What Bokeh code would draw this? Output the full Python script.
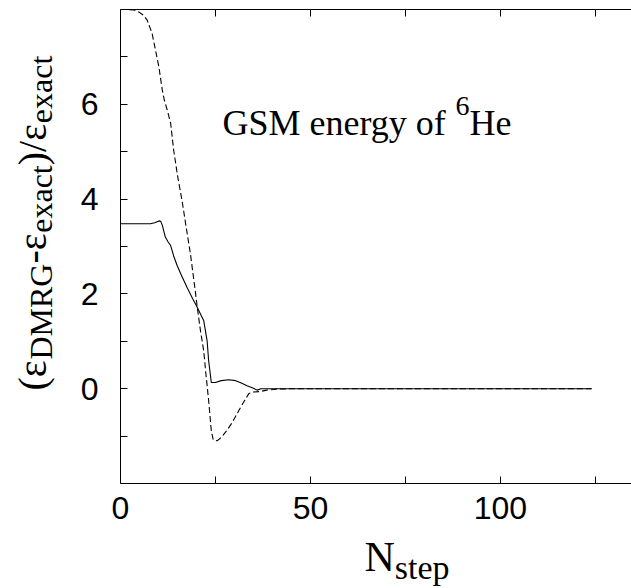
import math
from bokeh.plotting import figure
from bokeh.models import Label, LinearAxis, FixedTicker, Range1d
from bokeh.layouts import column, row
from bokeh.embed import file_html
from bokeh.resources import INLINE

# ---- data ----
n_dashed = [0, 2, 3.5, 4.8, 6, 7, 8.3, 9.2, 10.1, 11, 11.5, 12.3, 13.2, 14, 15, 16.2,
            17.3, 18.4, 19.7, 20.2, 21, 21.9, 22.5, 23.2, 23.9, 24.4, 25.4, 26.2, 27,
            28.1, 29.5, 31, 32.5, 33.8, 35, 36.8, 38.5, 41, 45, 124]
e_dashed = [8.0, 8.0, 7.99, 7.95, 7.88, 7.78, 7.5, 7.15, 6.79, 6.3, 6.1, 5.88, 5.6, 5.03,
            4.5, 3.97, 3.4, 2.85, 2.05, 1.72, 1.25, 0.8, 0.3, -0.25, -0.89, -1.08, -1.1,
            -1.05, -0.98, -0.87, -0.7, -0.48, -0.27, -0.1, -0.07, -0.06, -0.03, -0.01, 0.0, 0.0]

n_solid = [0, 7.9, 9, 10.1, 10.6, 11, 11.8, 12.5, 13.2, 14, 14.9, 16, 17.5, 19, 20.2,
           21.2, 21.9, 22.4, 22.8, 23.2, 23.9, 25, 26.5, 28.5, 30.3, 31.8, 33.3, 35,
           35.9, 37, 124]
e_solid = [3.48, 3.48, 3.5, 3.54, 3.53, 3.45, 3.2, 3.1, 3.02, 2.8, 2.6, 2.4, 2.14, 1.9,
           1.72, 1.55, 1.44, 1.2, 1.01, 0.59, 0.13, 0.13, 0.17, 0.19, 0.17, 0.12, 0.06,
           0.01, -0.03, 0.0, 0.0]

x_major = [0, 50, 100]
x_minor = [25, 75, 125]
y_major = [0, 2, 4, 6]
y_minor = [-1, 1, 3, 5, 7]

# Times (Liberation Serif) advance widths, em units
ADV = {'(': .333, ')': .333, '/': .278, '-': .333, 'ε': .439, 'D': .722, 'M': .889,
       'R': .667, 'G': .722, 'e': .444, 'x': .5, 'a': .444, 'c': .444, 't': .278,
       'N': .722, 's': .389, 'p': .5, 'S': .556, 'n': .5, 'r': .333, 'g': .5, 'y': .5,
       'o': .5, 'f': .333, ' ': .25, 'H': .722, '6': .5}
K_MID = 0.35   # label anchor sits this many em above the baseline


def tw(s, size):
    return sum(ADV.get(c, .5) for c in s) * size


SERIF = "Liberation Serif"
SANS = "Liberation Sans"

W_LEFT = 72
H_MAIN = 535
W_TOT, H_TOT = 631, 588
FRAME_LEFT = 120     # page x of the frame's left edge
FRAME_BOTTOM = 483   # page y of the frame bottom (shared by the row)


def blank_fig(w, h):
    f = figure(width=w, height=h, output_backend="svg", toolbar_location=None,
               x_range=Range1d(0, 1), y_range=Range1d(0, 1), min_border=0,
               x_axis_location=None, y_axis_location=None)
    f.grid.visible = False
    f.outline_line_color = None
    f.background_fill_color = "white"
    f.border_fill_color = "white"
    return f


p = figure(width=W_TOT - W_LEFT, height=H_MAIN, output_backend="svg", toolbar_location=None,
           x_range=Range1d(0, 134.5), y_range=Range1d(-2, 8),
           min_border_left=FRAME_LEFT - W_LEFT, min_border_right=0, min_border_top=9,
           min_border_bottom=H_MAIN - FRAME_BOTTOM, x_axis_location=None,
           y_axis_location=None)
p.grid.visible = False
p.outline_line_color = None
p.background_fill_color = "white"
p.border_fill_color = "white"

p.line(n_solid, e_solid, line_color="black", line_width=1.1)
p.line(n_dashed, e_dashed, line_color="black", line_width=1.1, line_dash="6 3")


def style_axis(ax):
    ax.axis_line_color = "black"
    ax.axis_line_width = 1
    ax.major_tick_in = 7
    ax.major_tick_out = 0
    ax.minor_tick_in = 7
    ax.minor_tick_out = 0
    ax.major_tick_line_color = "black"
    ax.minor_tick_line_color = "black"
    ax.major_label_text_font = SANS
    ax.major_label_text_font_size = "32px"
    ax.major_label_text_color = "black"


xb = LinearAxis(ticker=FixedTicker(ticks=x_major, minor_ticks=x_minor))
style_axis(xb)
xb.major_label_standoff = 13
p.add_layout(xb, "below")

yl = LinearAxis(ticker=FixedTicker(ticks=y_major, minor_ticks=y_minor))
style_axis(yl)
yl.major_label_standoff = 22
p.add_layout(yl, "left")

xt = LinearAxis(ticker=FixedTicker(ticks=x_major, minor_ticks=x_minor))
style_axis(xt)
xt.major_label_text_font_size = "0px"
xt.major_label_standoff = 0
xt.major_label_overrides = {t: "" for t in x_major}
p.add_layout(xt, "above")


def add_run(fig, pieces, x0, y0, angle=0.0):
    """pieces: (text, size, shift); (x0, y0) is the start of the baseline,
    shift>0 raises the baseline of a piece."""
    pos = 0.0
    for text, size, shift in pieces:
        up = shift + K_MID * size
        if angle == 0.0:
            x, y = x0 + pos, y0 + up
        else:
            x, y = x0 - up, y0 + pos
        fig.add_layout(Label(x=x, y=y, x_units="screen", y_units="screen", text=text,
                             angle=angle, text_font=SERIF, text_font_size=f"{size}px",
                             text_color="black", text_align="left",
                             text_baseline="alphabetic"))
        pos += tw(text, size)


# in-plot caption
add_run(p, [("GSM energy of ", 36, 0), ("6", 28, 20), ("He", 36, 0)],
        222 - FRAME_LEFT, FRAME_BOTTOM - 135)

# y axis title (rotated); this panel's frame shares the main frame's bottom
ylab = blank_fig(W_LEFT, H_MAIN)
M, S, SH = 40, 32, -6
add_run(ylab, [("(", M, 0), ("ε", M, 0), ("DMRG", S, SH), ("-", M, 0), ("ε", M, 0),
               ("exact", S, SH), (")", M, 0), ("/", M, 0), ("ε", M, 0), ("exact", S, SH)],
        46, FRAME_BOTTOM - 390, angle=math.pi / 2)

# x axis title, own panel below
xlab = blank_fig(W_TOT, H_TOT - H_MAIN)
add_run(xlab, [("N", 42, 0), ("step", 34, -8)], 364, H_TOT - 571)

layout = column(row(ylab, p), xlab)
open("out.html", "w").write(file_html(layout, INLINE))
